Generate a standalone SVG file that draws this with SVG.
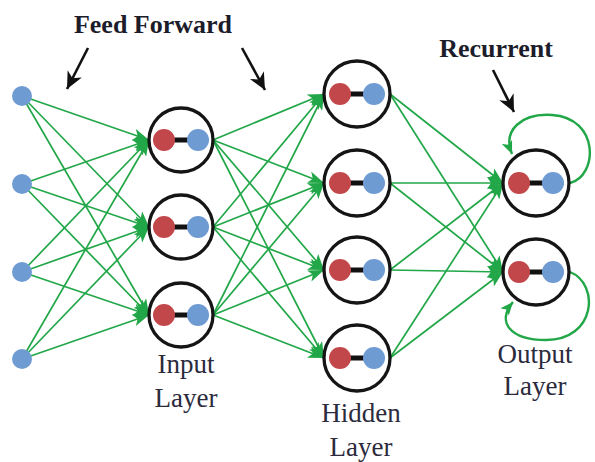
<svg xmlns="http://www.w3.org/2000/svg" width="595" height="462" viewBox="0 0 595 462">
<style>
.c{stroke:#22a748;stroke-width:1.7;fill:none}
.a{marker-end:url(#g)}
.k{stroke:#111;stroke-width:2.6;fill:none}
.ring{fill:#fff;stroke:#151515;stroke-width:3.3}
.red{fill:#c2474b}
.blue{fill:#6f9bd3}
.bar{stroke:#111;stroke-width:5}
.lab{font-family:"Liberation Serif",serif;font-size:27px;fill:#2b2b3d;text-anchor:middle}
.ttl{font-family:"Liberation Serif",serif;font-size:26px;font-weight:bold;fill:#1c1c2a;text-anchor:middle}
</style>
<defs>
<marker id="g" markerUnits="userSpaceOnUse" markerWidth="17" markerHeight="12" refX="16" refY="6" orient="auto">
<path d="M0,0 L16,6 L0,12 L4,6 z" fill="#22a748"/>
</marker>
<marker id="gs" markerUnits="userSpaceOnUse" markerWidth="14" markerHeight="11" refX="13" refY="5.5" orient="auto">
<path d="M0,0 L13,5.5 L0,11 L3,5.5 z" fill="#22a748"/>
</marker>
<marker id="b" markerUnits="userSpaceOnUse" markerWidth="18" markerHeight="16" refX="17" refY="8" orient="auto">
<path d="M0,0 L17,8 L0,16 L5,8 z" fill="#111"/>
</marker>
</defs>
<rect width="595" height="462" fill="#fff"/>
<g id="connectors">
<path class="c a" d="M22,96 L149,140"/>
<path class="c a" d="M22,96 L149,227"/>
<path class="c a" d="M22,96 L149,315"/>
<path class="c a" d="M22,184 L149,140"/>
<path class="c a" d="M22,184 L149,227"/>
<path class="c a" d="M22,184 L149,315"/>
<path class="c a" d="M22,272 L149,140"/>
<path class="c a" d="M22,272 L149,227"/>
<path class="c a" d="M22,272 L149,315"/>
<path class="c a" d="M22,359 L149,140"/>
<path class="c a" d="M22,359 L149,227"/>
<path class="c a" d="M22,359 L149,315"/>
<path class="c a" d="M213,140 L324,94"/>
<path class="c a" d="M213,140 L324,183"/>
<path class="c a" d="M213,140 L324,270"/>
<path class="c a" d="M213,140 L324,358"/>
<path class="c a" d="M213,227 L324,94"/>
<path class="c a" d="M213,227 L324,183"/>
<path class="c a" d="M213,227 L324,270"/>
<path class="c a" d="M213,227 L324,358"/>
<path class="c a" d="M213,315 L324,94"/>
<path class="c a" d="M213,315 L324,183"/>
<path class="c a" d="M213,315 L324,270"/>
<path class="c a" d="M213,315 L324,358"/>
<path class="c a" d="M390,94 L503,183"/>
<path class="c a" d="M390,94 L503,272"/>
<path class="c a" d="M390,183 L503,183"/>
<path class="c a" d="M390,183 L503,272"/>
<path class="c a" d="M390,270 L503,183"/>
<path class="c a" d="M390,270 L503,272"/>
<path class="c a" d="M390,358 L503,183"/>
<path class="c a" d="M390,358 L503,272"/>
<path class="c" style="stroke-width:2.4;marker-end:url(#gs)" d="M570,183 C598,176 600,118 552,115 C522,113 502,130 512,154"/>
<path class="c" style="stroke-width:2.4;marker-end:url(#gs)" d="M570,272 C600,284 596,340 546,340 C510,340 496,322 513,302"/>
<path class="k" style="marker-end:url(#b)" d="M88,48 L67,89"/>
<path class="k" style="marker-end:url(#b)" d="M242,48 L265,90"/>
<path class="k" style="marker-end:url(#b)" d="M493,70 L514,112"/>
</g>
<g id="feed-forward-label"><text class="ttl" x="153" y="33">Feed Forward</text></g>
<g id="recurrent-label"><text class="ttl" x="496" y="57">Recurrent</text></g>
<g id="x1"><circle class="blue" cx="22" cy="96" r="10"/></g>
<g id="x2"><circle class="blue" cx="22" cy="184" r="10"/></g>
<g id="x3"><circle class="blue" cx="22" cy="272" r="10"/></g>
<g id="x4"><circle class="blue" cx="22" cy="359" r="10"/></g>
<g id="in1"><circle class="ring" cx="181" cy="140" r="32"/><line class="bar" x1="164" y1="140" x2="198" y2="140"/><circle class="red" cx="164" cy="140" r="11"/><circle class="blue" cx="198" cy="140" r="11"/></g>
<g id="in2"><circle class="ring" cx="181" cy="227" r="32"/><line class="bar" x1="164" y1="227" x2="198" y2="227"/><circle class="red" cx="164" cy="227" r="11"/><circle class="blue" cx="198" cy="227" r="11"/></g>
<g id="in3"><circle class="ring" cx="181" cy="315" r="32"/><line class="bar" x1="164" y1="315" x2="198" y2="315"/><circle class="red" cx="164" cy="315" r="11"/><circle class="blue" cx="198" cy="315" r="11"/></g>
<g id="h1"><circle class="ring" cx="357" cy="94" r="33"/><line class="bar" x1="340" y1="94" x2="374" y2="94"/><circle class="red" cx="340" cy="94" r="11"/><circle class="blue" cx="374" cy="94" r="11"/></g>
<g id="h2"><circle class="ring" cx="357" cy="183" r="33"/><line class="bar" x1="340" y1="183" x2="374" y2="183"/><circle class="red" cx="340" cy="183" r="11"/><circle class="blue" cx="374" cy="183" r="11"/></g>
<g id="h3"><circle class="ring" cx="357" cy="270" r="33"/><line class="bar" x1="340" y1="270" x2="374" y2="270"/><circle class="red" cx="340" cy="270" r="11"/><circle class="blue" cx="374" cy="270" r="11"/></g>
<g id="h4"><circle class="ring" cx="357" cy="358" r="33"/><line class="bar" x1="340" y1="358" x2="374" y2="358"/><circle class="red" cx="340" cy="358" r="11"/><circle class="blue" cx="374" cy="358" r="11"/></g>
<g id="o1"><circle class="ring" cx="536" cy="183" r="33"/><line class="bar" x1="519" y1="183" x2="553" y2="183"/><circle class="red" cx="519" cy="183" r="11"/><circle class="blue" cx="553" cy="183" r="11"/></g>
<g id="o2"><circle class="ring" cx="536" cy="272" r="33"/><line class="bar" x1="519" y1="272" x2="553" y2="272"/><circle class="red" cx="519" cy="272" r="11"/><circle class="blue" cx="553" cy="272" r="11"/></g>
<g id="input-label"><text class="lab" x="186" y="373">Input</text><text class="lab" x="186" y="407">Layer</text></g>
<g id="hidden-label"><text class="lab" x="361" y="422">Hidden</text><text class="lab" x="361" y="456">Layer</text></g>
<g id="output-label"><text class="lab" x="535" y="363">Output</text><text class="lab" x="535" y="395">Layer</text></g>
</svg>
